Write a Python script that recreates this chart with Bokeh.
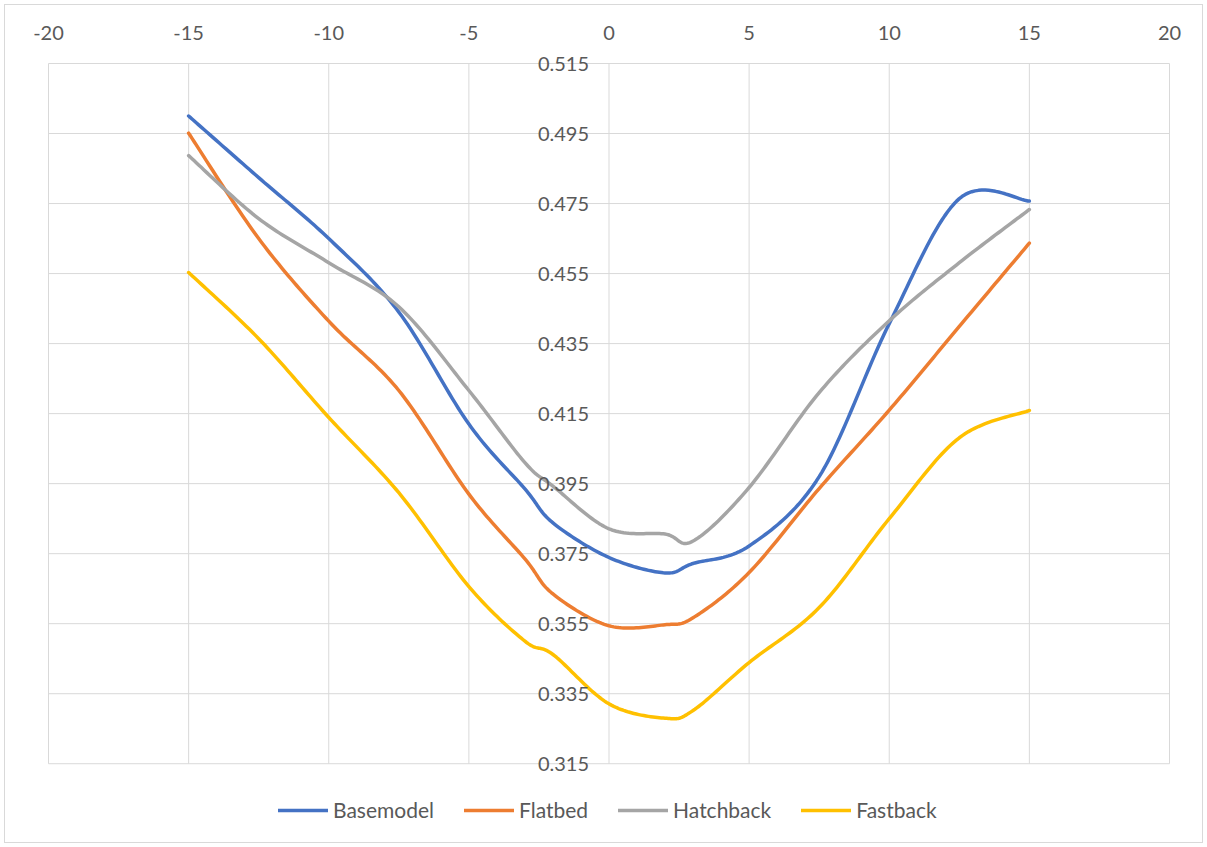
import numpy as np
from bokeh.plotting import figure
from bokeh.models import Range1d, FixedTicker, Legend, LegendItem, ColumnDataSource, LabelSet
from bokeh.core.properties import value
from bokeh.embed import file_html
from bokeh.resources import INLINE

# ---- data ----
x_vals = [-15, -12.5, -10, -7.5, -5, -3, -2, 0, 2, 3, 5, 7.5, 10, 12.5, 15]
basemodel = [0.5000, 0.4824, 0.4650, 0.4440, 0.4120, 0.3935, 0.3838, 0.3739, 0.3695, 0.3722, 0.3772, 0.3970, 0.4407, 0.4764, 0.4757]
flatbed   = [0.4951, 0.4650, 0.4414, 0.4216, 0.3920, 0.3735, 0.3635, 0.3544, 0.3547, 0.3567, 0.3696, 0.3936, 0.4160, 0.4399, 0.4637]
hatchback = [0.4887, 0.4707, 0.4581, 0.4455, 0.4216, 0.4010, 0.3943, 0.3821, 0.3806, 0.3786, 0.3939, 0.4210, 0.4415, 0.4581, 0.4733]
fastback  = [0.4553, 0.4364, 0.4139, 0.3924, 0.3656, 0.3500, 0.3462, 0.3321, 0.3280, 0.3302, 0.3439, 0.3596, 0.3850, 0.4081, 0.4159]

series_names = ["Basemodel", "Flatbed", "Hatchback", "Fastback"]
series_colors = ["#4472C4", "#ED7D31", "#A5A5A5", "#FFC000"]

x_ticks = [-20, -15, -10, -5, 0, 5, 10, 15, 20]
x_labels = ["-20", "-15", "-10", "-5", "0", "5", "10", "15", "20"]
y_ticks = [0.315, 0.335, 0.355, 0.375, 0.395, 0.415, 0.435, 0.455, 0.475, 0.495, 0.515]
y_labels = ["0.315", "0.335", "0.355", "0.375", "0.395", "0.415", "0.435", "0.455", "0.475", "0.495", "0.515"]

FONT = "Lato"
TXT = "#595959"
GRID = "#D9D9D9"


def smooth(xs, ys, sx=28.03, sy=3500.0, n=24):
    """Excel-like smoothed line (Catmull-Rom Bezier) through the data points."""
    P = np.column_stack([np.asarray(xs, float) * sx, np.asarray(ys, float) * sy])
    out = [P[0]]
    t = np.linspace(0, 1, n + 1)[1:, None]
    for i in range(len(P) - 1):
        p0 = P[i - 1] if i > 0 else P[i]
        p1, p2 = P[i], P[i + 1]
        p3 = P[i + 2] if i + 2 < len(P) else P[i + 1]
        c1 = p1 + (p2 - p0) / 6.0
        c2 = p2 - (p3 - p1) / 6.0
        seg = (1 - t) ** 3 * p1 + 3 * (1 - t) ** 2 * t * c1 + 3 * (1 - t) * t ** 2 * c2 + t ** 3 * p2
        out.extend(seg)
    out = np.array(out)
    return out[:, 0] / sx, out[:, 1] / sy


x_lo, x_hi = x_ticks[0], x_ticks[-1]
y_lo, y_hi = y_ticks[0], y_ticks[-1]

# frame is padded around the plot area so edge labels and the legend are not clipped
p = figure(width=1197, height=837, output_backend="svg", toolbar_location=None,
           x_range=Range1d(x_lo - 0.5, x_hi + 0.5), y_range=Range1d(y_lo - 0.0205, y_hi + 0.004),
           x_axis_location="above", y_axis_location="left",
           min_border_left=29, min_border_right=19, min_border_top=44, min_border_bottom=7)
p.styles = {"margin-left": "5px", "margin-top": "5px",
            "outline": "1px solid #D9D9D9", "outline-offset": "0px"}
p.outline_line_color = None
p.background_fill_color = "white"
p.border_fill_color = "white"

p.yaxis.visible = False
p.xgrid.visible = False
p.ygrid.visible = False

ax = p.xaxis[0]
ax.ticker = FixedTicker(ticks=x_ticks)
ax.major_label_overrides = {t: s for t, s in zip(x_ticks, x_labels)}
ax.axis_line_color = None
ax.major_tick_line_color = None
ax.minor_tick_line_color = None
ax.major_tick_in = 0
ax.major_tick_out = 0
ax.major_label_standoff = 10
ax.major_label_text_font = FONT
ax.major_label_text_font_size = "20px"
ax.major_label_text_color = TXT

# gridlines over the plot area only
p.segment(x0=x_ticks, y0=[y_lo] * len(x_ticks), x1=x_ticks, y1=[y_hi] * len(x_ticks),
          line_color=GRID, line_width=1)
p.segment(x0=[x_lo] * len(y_ticks), y0=y_ticks, x1=[x_hi] * len(y_ticks), y1=y_ticks,
          line_color=GRID, line_width=1)

# y tick labels placed along the x = 0 line (Excel axis crossing at 0)
lab_src = ColumnDataSource(dict(x=[0] * len(y_ticks), y=y_ticks, t=y_labels))
p.add_layout(LabelSet(x="x", y="y", text="t", source=lab_src, x_offset=-20,
                      text_align="right", text_baseline="middle", level="glyph",
                      text_font=value(FONT), text_font_size="20px", text_color=TXT))

items = []
for name, col, ys in zip(series_names, series_colors, [basemodel, flatbed, hatchback, fastback]):
    sx_, sy_ = smooth(x_vals, ys)
    r = p.line(sx_, sy_, line_color=col, line_width=3.5, line_cap="round", line_join="round")
    items.append(LegendItem(label=name, renderers=[r]))

legend = Legend(items=items, orientation="horizontal", location=(244, 13),
                glyph_width=50, glyph_height=20, label_height=20, label_standoff=5, spacing=30,
                padding=0, margin=0, border_line_color=None, background_fill_alpha=0,
                label_text_font=FONT, label_text_font_size="21px", label_text_color=TXT)
p.add_layout(legend)

open("out.html", "w").write(file_html(p, INLINE))
